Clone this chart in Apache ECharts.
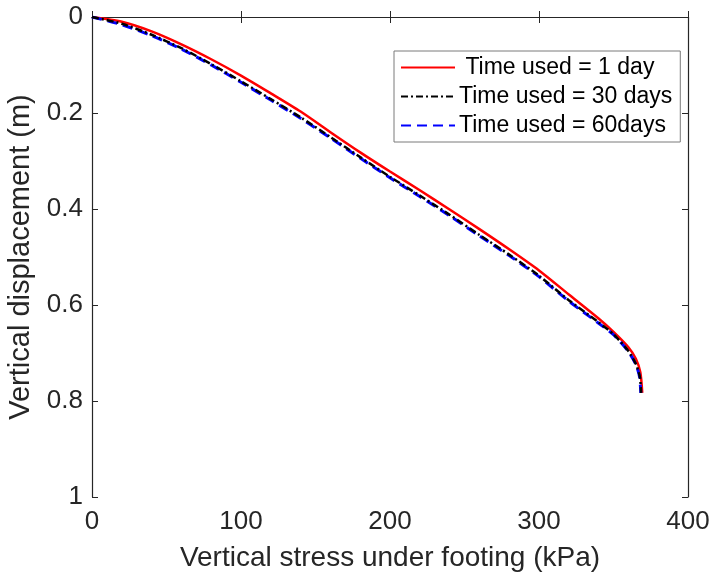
<!DOCTYPE html>
<html>
<head>
<meta charset="utf-8">
<script src="https://cdn.jsdelivr.net/npm/echarts@6/dist/echarts.min.js"></script>
<style>html,body{margin:0;padding:0;background:#fff}#c{width:709px;height:581px}</style>
</head>
<body>
<div id="c"></div>
<script>
var seriesNames = [' Time used = 1 day', 'Time used = 30 days', 'Time used = 60days'];
var xTicks = [0, 100, 200, 300, 400];
var yTicks = [0, 0.2, 0.4, 0.6, 0.8, 1];

var stress1 = [0, 20, 40, 60, 80, 100, 120, 140, 160, 180, 200, 220, 240, 260, 280, 300, 320, 340, 350, 360, 365, 368, 369.3];
var disp1   = [0, 0.010, 0.030, 0.057, 0.088, 0.122, 0.159, 0.197, 0.240, 0.282, 0.322, 0.361, 0.401, 0.442, 0.484, 0.528, 0.578, 0.628, 0.656, 0.688, 0.712, 0.740, 0.783];

var stress30 = [0, 20, 40, 60, 80, 100, 120, 140, 160, 180, 200, 220, 240, 260, 280, 300, 320, 340, 350, 360, 365, 367.7, 368.5];
var disp30   = [0, 0.014, 0.037, 0.065, 0.098, 0.134, 0.171, 0.209, 0.250, 0.292, 0.333, 0.372, 0.412, 0.454, 0.495, 0.539, 0.590, 0.636, 0.661, 0.696, 0.723, 0.750, 0.783];

var stress60 = [0, 20, 40, 60, 80, 100, 120, 140, 160, 180, 200, 220, 240, 260, 280, 300, 320, 340, 350, 360, 365, 367.5, 368.3];
var disp60   = [0, 0.016, 0.039, 0.067, 0.100, 0.136, 0.173, 0.211, 0.252, 0.294, 0.335, 0.374, 0.414, 0.456, 0.497, 0.541, 0.592, 0.638, 0.662, 0.697, 0.724, 0.750, 0.783];

function pairs(xs, ys) { return xs.map(function (x, i) { return [x, ys[i]]; }); }

var axisColor = '#262626';
var font = 'Liberation Sans, Arial, Helvetica, sans-serif';

var chart = echarts.init(document.getElementById('c'), null, {renderer: 'canvas'});
chart.setOption({
  animation: false,
  backgroundColor: '#fff',
  grid: {left: 92, right: 21, top: 17, bottom: 84, containLabel: false, outerBoundsMode: 'none'},
  legend: {
    orient: 'vertical',
    left: 394, top: 51,
    padding: [5, 8, 5, 6],
    itemGap: 6,
    itemWidth: 54, itemHeight: 14,
    backgroundColor: '#fff',
    borderColor: '#7a7a7a', borderWidth: 1,
    itemStyle: {opacity: 0},
    textStyle: {fontFamily: font, fontSize: 23, color: '#000', padding: [0, 0, 0, -1]},
    data: seriesNames
  },
  xAxis: [{
    type: 'value', min: 0, max: 400, interval: 100,
    name: 'Vertical stress under footing (kPa)', nameLocation: 'middle', nameGap: 47,
    nameTextStyle: {fontFamily: font, fontSize: 28, color: axisColor},
    axisLine: {show: true, lineStyle: {color: axisColor, width: 1.2}},
    axisTick: {show: true, inside: true, length: 6, lineStyle: {color: axisColor}},
    axisLabel: {fontFamily: font, fontSize: 26, color: axisColor, margin: 12},
    splitLine: {show: false}
  }, {
    type: 'value', position: 'top', min: 0, max: 400, interval: 100,
    axisLine: {show: true, onZero: false, lineStyle: {color: axisColor, width: 1.2}},
    axisTick: {show: true, inside: true, length: 6, lineStyle: {color: axisColor}},
    axisLabel: {show: false}, splitLine: {show: false}
  }],
  yAxis: [{
    type: 'value', inverse: true, min: 0, max: 1, interval: 0.2,
    name: 'Vertical displacement (m)', nameLocation: 'middle', nameGap: 53, nameRotate: 90,
    nameTextStyle: {fontFamily: font, fontSize: 29, color: axisColor},
    axisLine: {show: true, lineStyle: {color: axisColor, width: 1.2}},
    axisTick: {show: true, inside: true, length: 6, lineStyle: {color: axisColor}},
    axisLabel: {fontFamily: font, fontSize: 26, color: axisColor, margin: 9,
      formatter: function (v) { return String(+v.toFixed(1)); }},
    splitLine: {show: false}
  }, {
    type: 'value', position: 'right', inverse: true, min: 0, max: 1, interval: 0.2,
    axisLine: {show: true, onZero: false, lineStyle: {color: axisColor, width: 1.2}},
    axisTick: {show: true, inside: true, length: 6, lineStyle: {color: axisColor}},
    axisLabel: {show: false}, splitLine: {show: false}
  }],
  series: [{
    name: seriesNames[0], type: 'line', smooth: 0.25, symbol: 'none',
    data: pairs(stress1, disp1), z: 3,
    itemStyle: {color: '#ff0000'},
    lineStyle: {color: '#ff0000', width: 2.5, type: 'solid'}
  }, {
    name: seriesNames[1], type: 'line', smooth: 0.25, symbol: 'none',
    data: pairs(stress30, disp30), z: 5,
    itemStyle: {color: '#000'},
    lineStyle: {color: '#000', width: 2.5, type: [7, 3, 2, 3]}
  }, {
    name: seriesNames[2], type: 'line', smooth: 0.25, symbol: 'none',
    data: pairs(stress60, disp60), z: 4,
    itemStyle: {color: '#0000ff'},
    lineStyle: {color: '#0000ff', width: 3, type: [10, 6]}
  }]
});
</script>
</body>
</html>
